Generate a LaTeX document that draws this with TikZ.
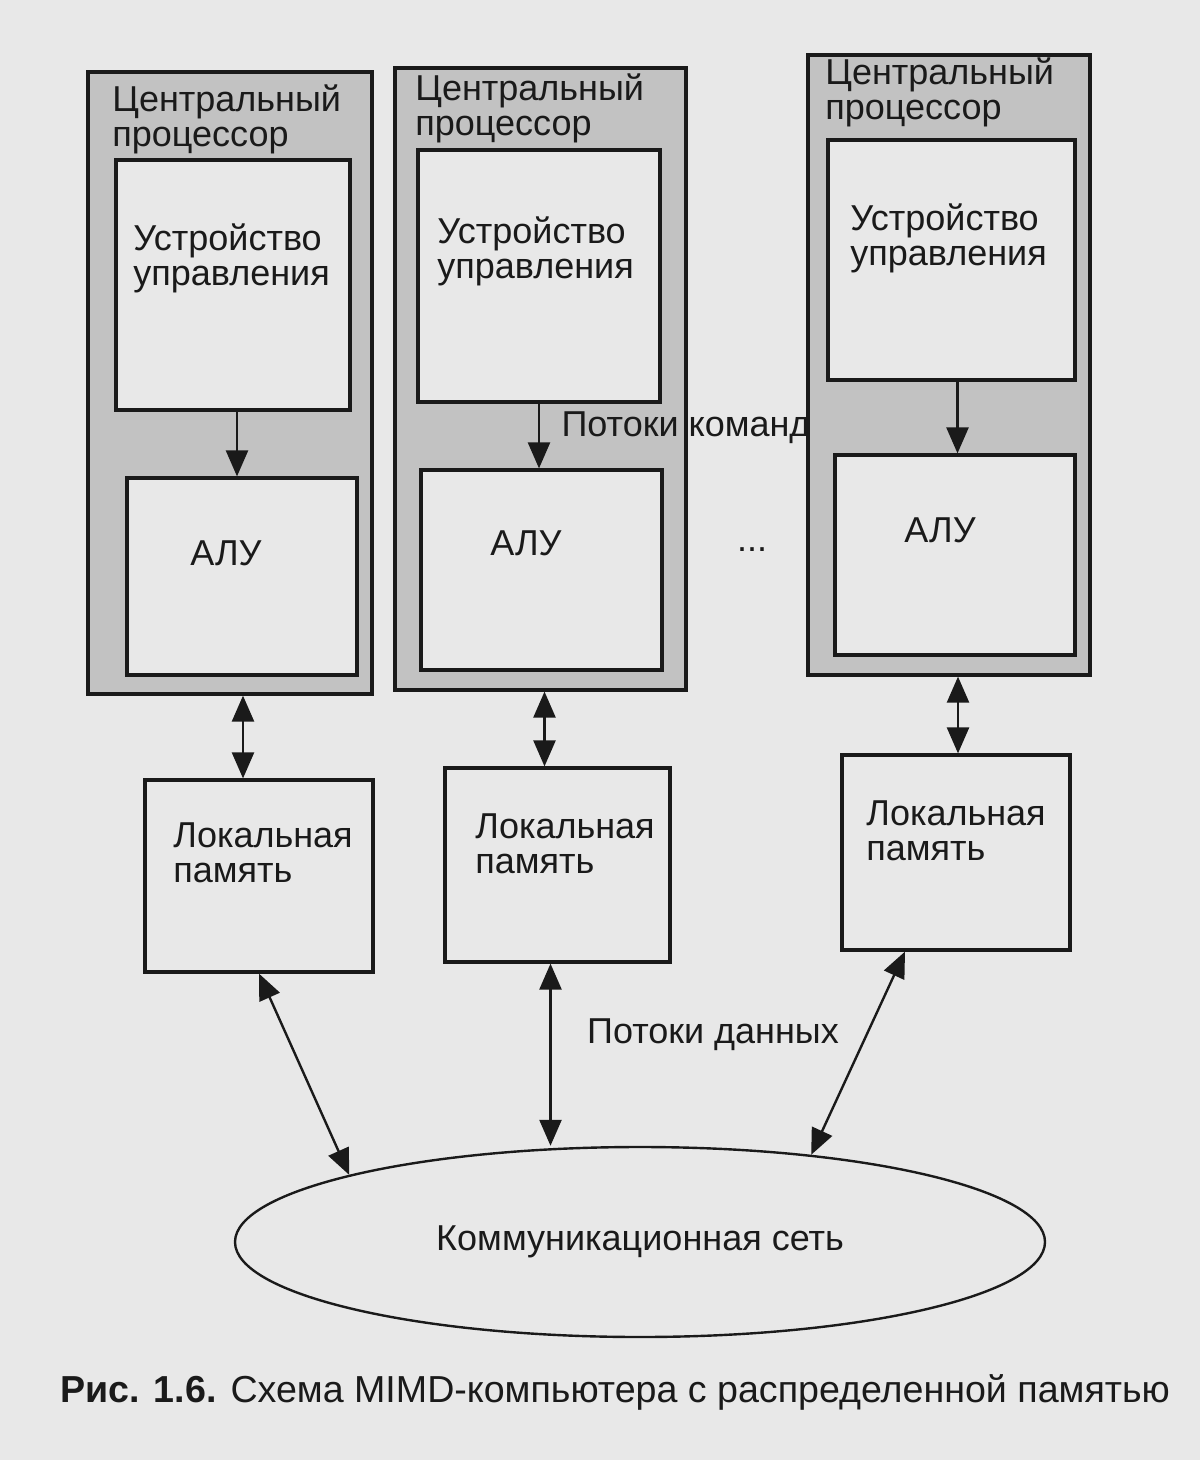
\documentclass[tikz,border=0pt]{standalone}
\usepackage{fontspec}
\setmainfont{Liberation Sans}
\usetikzlibrary{arrows.meta,fit,shapes.geometric}
\definecolor{paper}{HTML}{E8E8E8}
\definecolor{cpugray}{HTML}{C2C2C2}
\definecolor{ink}{HTML}{1A1A1A}

\begin{document}
\begin{tikzpicture}[x=0.5pt, y=-0.5pt,
  cpu/.style={draw=ink, fill=cpugray, line width=1.6pt, inner sep=0pt},
  unit/.style={draw=ink, fill=paper, line width=1.6pt, inner sep=0pt},
  lbl/.style={font=\fontsize{18}{17.5}\selectfont, text=ink, align=left, inner sep=0pt},
  flow/.style={ink, line width=1.2pt, -{Triangle[length=13pt, width=11pt]}},
  dflow/.style={ink, line width=1.2pt, {Triangle[length=13pt, width=11pt]}-{Triangle[length=13pt, width=11pt]}}
]

  % Page
  \fill[paper] (0,0) rectangle (1200,1460);
  \useasboundingbox (0,0) rectangle (1200,1460);

  % Processors (shaded frames)
  \node[cpu, fit={(88,72) (372,694)}] (p1) {};
  \node[cpu, fit={(395,68) (686,690)}] (p2) {};
  \node[cpu, fit={(808,55) (1090,675)}] (p3) {};

  \node[lbl, anchor=north west] (p1t) at (112,84) {Центральный\\процессор};
  \node[lbl, anchor=north west] (p2t) at (415,73) {Центральный\\процессор};
  \node[lbl, anchor=north west] (p3t) at (825,57) {Центральный\\процессор};

  % Control units
  \node[unit, fit={(116,160) (350,410)}] (cu1) {};
  \node[unit, fit={(418,150) (660,402)}] (cu2) {};
  \node[unit, fit={(828,140) (1075,380)}] (cu3) {};

  \node[lbl, anchor=north west] (cu1t) at (133,223) {Устройство\\управления};
  \node[lbl, anchor=north west] (cu2t) at (437,216) {Устройство\\управления};
  \node[lbl, anchor=north west] (cu3t) at (850,203) {Устройство\\управления};

  % ALUs
  \node[unit, fit={(127,478) (357,675)}] (alu1) {};
  \node[unit, fit={(421,470) (662,670)}] (alu2) {};
  \node[unit, fit={(835,455) (1075,655)}] (alu3) {};

  \node[lbl] (alu1t) at (226,553) {АЛУ};
  \node[lbl] (alu2t) at (526,543) {АЛУ};
  \node[lbl] (alu3t) at (940,530) {АЛУ};

  % Command streams
  \draw[flow] ([xshift=2pt]cu1.south) -- ([xshift=2pt]cu1.south |- alu1.north);
  \draw[flow] (cu2.south) -- (cu2.south |- alu2.north);
  \draw[flow] ([xshift=3pt]cu3.south) -- ([xshift=3pt]cu3.south |- alu3.north);
  \node[lbl] (cmd) at (686,428) {Потоки команд};
  \node[lbl] (dots) at (752,550) {...};

  % Local memories
  \node[unit, fit={(145,780) (373,972)}] (m1) {};
  \node[unit, fit={(445,768) (670,962)}] (m2) {};
  \node[unit, fit={(842,755) (1070,950)}] (m3) {};

  \node[lbl, anchor=north west] (m1t) at (173,822) {Локальная\\память};
  \node[lbl, anchor=north west] (m2t) at (475,813) {Локальная\\память};
  \node[lbl, anchor=north west] (m3t) at (866,800) {Локальная\\память};

  \draw[dflow] ([xshift=6.5pt]p1.south) -- ([xshift=6.5pt]p1.south |- m1.north);
  \draw[dflow] ([xshift=2pt]p2.south) -- ([xshift=2pt]p2.south |- m2.north);
  \draw[dflow] ([xshift=4.5pt]p3.south) -- ([xshift=4.5pt]p3.south |- m3.north);

  % Network and data streams
  \node[draw=ink, line width=1.2pt, ellipse, minimum width=405pt, minimum height=95pt,
        inner sep=0pt, font=\fontsize{18}{17.5}\selectfont, text=ink] (net) at (640,1242)
        {Коммуникационная сеть};

  \draw[dflow] (m1.south) -- (net.167);
  \draw[dflow] ([xshift=-3.5pt]m2.south) -- ([xshift=-3.5pt]m2.south |- net.north);
  \draw[dflow] ([xshift=-25.5pt]m3.south) -- (net.27);
  \node[lbl] (data) at (713,1035) {Потоки данных};

  % Caption
  \node[lbl, anchor=west, font=\fontsize{18.8}{20}\selectfont] (cap) at (60,1392)
        {\textbf{Рис. 1.6.} Схема MIMD-компьютера с распределенной памятью};

\end{tikzpicture}
\end{document}
